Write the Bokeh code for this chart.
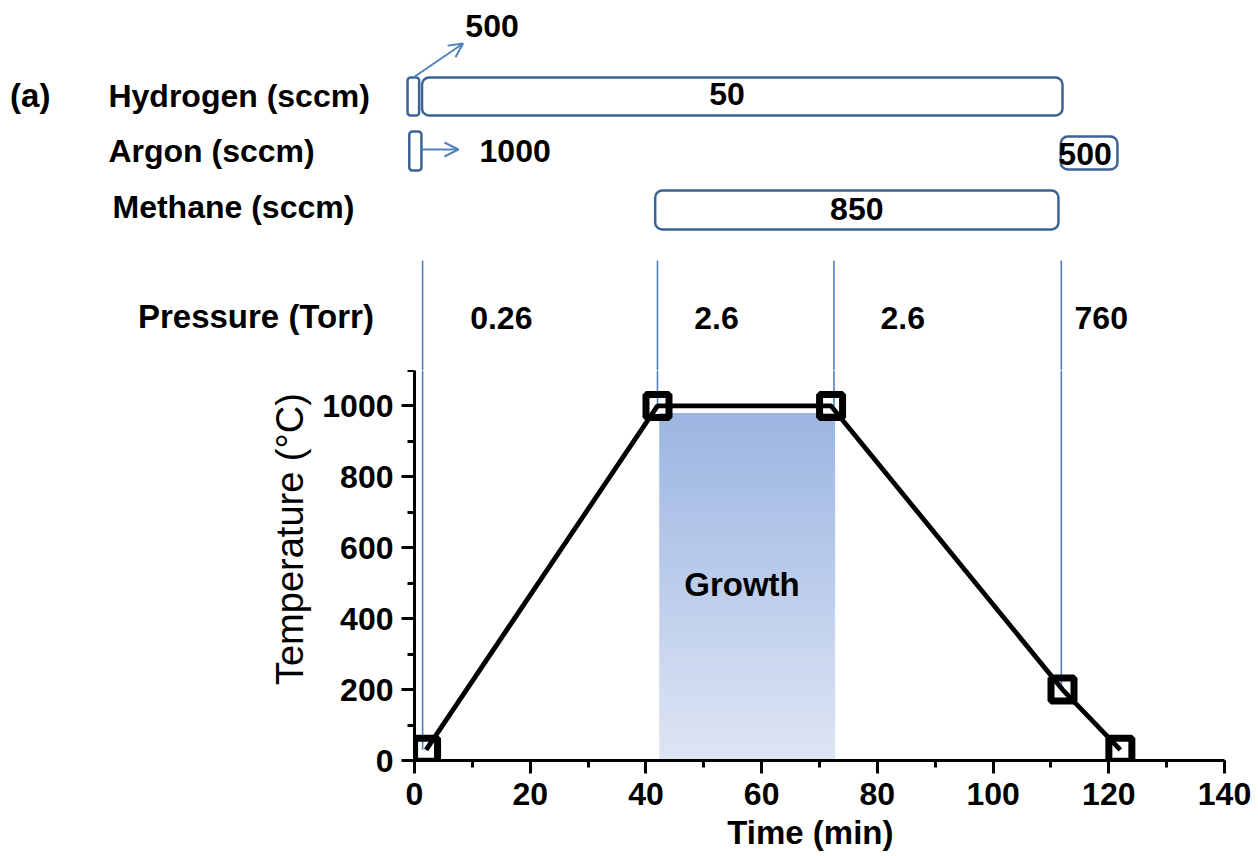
import numpy as np
from bokeh.plotting import figure
from bokeh.models import Range1d, SingleIntervalTicker, Arrow, OpenHead
from bokeh.core.properties import value
from bokeh.embed import file_html
from bokeh.resources import INLINE

# ---------------- data ----------------
time_min = [2, 42, 72, 112, 122]
temp_c = [30, 1000, 1000, 200, 30]

stage_times = [1.4, 42, 72.5, 111.8]
stage_temps = [30, 1000, 1000, 200]
pressure_torr = ["0.26", "2.6", "2.6", "760"]

gas_labels = ["Hydrogen (sccm)", "Argon (sccm)", "Methane (sccm)"]
flow_gas = ["Hydrogen", "Hydrogen", "Argon", "Argon", "Methane"]
flow_start = [-1.2, 1.3, -0.9, 111.7, 41.6]
flow_end = [0.8, 112.0, 1.2, 121.5, 111.3]
flow_sccm = ["500", "50", "1000", "500", "850"]

growth_window = [42.3, 72.7]
growth_top = 980

# ---------------- layout / style ----------------
FONT = "Liberation Sans"
PX_PER_MIN = 810 / 140
LEFT, RIGHT = 414, 30
TOTAL_W = LEFT + 810 + RIGHT
TOP_H = 370
X_START = -LEFT / PX_PER_MIN
X_END = 140 + RIGHT / PX_PER_MIN
BLUE = "#4F81BD"
BAR_EDGE = "#3C6396"
TXT_SHIFT = 12  # baseline correction (px)

row_center = {"Hydrogen": 96, "Argon": 150.5, "Methane": 209.5}
row_baseline = {"Hydrogen": 107, "Argon": 162, "Methane": 218}
bar_height = [38, 38, 39, 33, 39]
bar_center_shift = [0, 0, 0, 2, 0]
flow_label_x = [13.4, 54.0, 17.4, 115.9, 76.45]
flow_label_base = [37, 105, 162, 165, 220]
pressure_label_x = [15.0, 52.2, 84.4, 118.7]

# ---------------- top panel (gas flows, pressure) ----------------
top = figure(width=TOTAL_W, height=TOP_H,
             x_range=Range1d(X_START, X_END), y_range=Range1d(TOP_H, 0),
             x_axis_type=None, y_axis_type=None,
             toolbar_location=None, output_backend="svg",
             min_border=0, outline_line_color=None)
top.grid.visible = False

# stage boundary lines (upper part)
top.segment(x0=stage_times, y0=[260] * len(stage_times), x1=stage_times,
            y1=[TOP_H] * len(stage_times), line_color=BLUE, line_width=1.6)

# flow bars (short pulses and long bars)
centers = [row_center[g] + s for g, s in zip(flow_gas, bar_center_shift)]
tops = [c - h / 2 for c, h in zip(centers, bar_height)]
bots = [c + h / 2 for c, h in zip(centers, bar_height)]
short = [i for i in range(len(flow_gas)) if flow_end[i] - flow_start[i] < 5]
longb = [i for i in range(len(flow_gas)) if i not in short]
for idx, rad in ((short, 3), (longb, 7)):
    top.quad(left=[flow_start[i] for i in idx], right=[flow_end[i] for i in idx],
             top=[tops[i] for i in idx], bottom=[bots[i] for i in idx],
             fill_color="white", line_color=BAR_EDGE, line_width=2.5,
             border_radius=rad)

# arrows from the short initial pulses
h_mid = (flow_start[0] + flow_end[0]) / 2
top.add_layout(Arrow(x_start=h_mid, y_start=tops[0], x_end=h_mid + 8.6, y_end=tops[0] - 34,
                     line_color=BLUE, line_width=2,
                     end=OpenHead(size=14, line_color=BLUE, line_width=2)))
top.add_layout(Arrow(x_start=flow_end[2], y_start=row_center["Argon"] - 1.5,
                     x_end=flow_end[2] + 6.4, y_end=row_center["Argon"] - 1.5,
                     line_color=BLUE, line_width=2,
                     end=OpenHead(size=14, line_color=BLUE, line_width=2)))

# flow values
top.text(x=flow_label_x, y=[b - TXT_SHIFT for b in flow_label_base], text=flow_sccm,
         text_font=value(FONT), text_font_style="bold", text_font_size="32px",
         text_align="center", text_baseline="alphabetic", text_color="black")

# row titles
top.text(x=[-52.9, -52.9, -52.2],
         y=[row_baseline[g] - TXT_SHIFT for g in ["Hydrogen", "Argon", "Methane"]],
         text=gas_labels, text_font=value(FONT), text_font_style="bold",
         text_font_size="32px", text_align="left", text_baseline="alphabetic",
         text_color="black")
top.text(x=[-69.9], y=[107 - TXT_SHIFT], text=["(a)"], text_font=value(FONT),
         text_font_style="bold", text_font_size="33px", text_align="left",
         text_baseline="alphabetic", text_color="black")

# pressure
top.text(x=[-47.8], y=[328 - TXT_SHIFT], text=["Pressure (Torr)"], text_font=value(FONT),
         text_font_style="bold", text_font_size="33px", text_align="left",
         text_baseline="alphabetic", text_color="black")
top.text(x=pressure_label_x, y=[329 - TXT_SHIFT] * len(pressure_torr), text=pressure_torr,
         text_font=value(FONT), text_font_style="bold", text_font_size="32px",
         text_align="center", text_baseline="alphabetic", text_color="black")

# ---------------- bottom panel (temperature profile) ----------------
p = figure(frame_width=810, frame_height=390,
           x_range=Range1d(0, 140), y_range=Range1d(0, 1100),
           toolbar_location=None, output_backend="svg",
           min_border_left=LEFT, min_border_right=RIGHT,
           min_border_top=0, min_border_bottom=0,
           outline_line_color=None)
p.grid.visible = False

# growth shading (vertical gradient)
n = 60
edges = np.linspace(-35, growth_top, n + 1)
c_top = np.array([155, 181, 226])
c_bot = np.array([224, 231, 244])
cols = []
for i in range(n):
    f = (i + 0.5) / n
    c = c_bot + (c_top - c_bot) * f
    cols.append("#%02x%02x%02x" % tuple(int(round(v)) for v in c))
p.quad(left=[growth_window[0]] * n, right=[growth_window[1]] * n,
       bottom=edges[:-1], top=edges[1:], fill_color=cols, line_color=None)

p.text(x=[(growth_window[0] + growth_window[1]) / 2 - 0.9], y=[496], text=["Growth"],
       text_font=value(FONT), text_font_style="bold", text_font_size="33px",
       text_align="center", text_baseline="alphabetic", text_color="black")

# stage boundary lines (lower part)
p.segment(x0=stage_times, y0=[1100] * len(stage_times), x1=stage_times, y1=stage_temps,
          line_color=BLUE, line_width=1.6)

# temperature profile
p.line(time_min, temp_c, line_color="black", line_width=4.8)
p.scatter(time_min, temp_c, marker="square", size=23, fill_color=None,
          line_color="black", line_width=7)

# axes
for ax in (p.xaxis[0], p.yaxis[0]):
    ax.axis_line_width = 3
    ax.axis_line_color = "black"
    ax.major_tick_line_width = 3
    ax.minor_tick_line_width = 3
    ax.major_tick_line_color = "black"
    ax.minor_tick_line_color = "black"
    ax.major_tick_out = 13
    ax.major_tick_in = 0
    ax.minor_tick_out = 7
    ax.minor_tick_in = 0
    ax.major_label_text_font = FONT
    ax.major_label_text_font_size = "32px"
    ax.major_label_text_font_style = "bold"
    ax.major_label_text_color = "black"

p.xaxis[0].ticker = SingleIntervalTicker(interval=20, num_minor_ticks=2)
p.yaxis[0].ticker = SingleIntervalTicker(interval=200, num_minor_ticks=2)
p.xaxis[0].major_label_standoff = 9
p.yaxis[0].major_label_standoff = 8
p.xaxis[0].axis_label = "Time (min)" + "\u00a0" * 2
p.xaxis[0].axis_label_text_font = FONT
p.xaxis[0].axis_label_text_font_size = "33px"
p.xaxis[0].axis_label_text_font_style = "bold"
p.xaxis[0].axis_label_text_color = "black"
p.xaxis[0].axis_label_standoff = 6

p.yaxis[0].axis_label = "\u00a0" * 5 + "Temperature (°C)"
p.yaxis[0].axis_label_text_font = FONT
p.yaxis[0].axis_label_text_font_size = "38px"
p.yaxis[0].axis_label_text_font_style = "normal"
p.yaxis[0].axis_label_text_color = "black"
p.yaxis[0].axis_label_standoff = 8

open("out.html", "w").write(file_html([top, p], INLINE))
